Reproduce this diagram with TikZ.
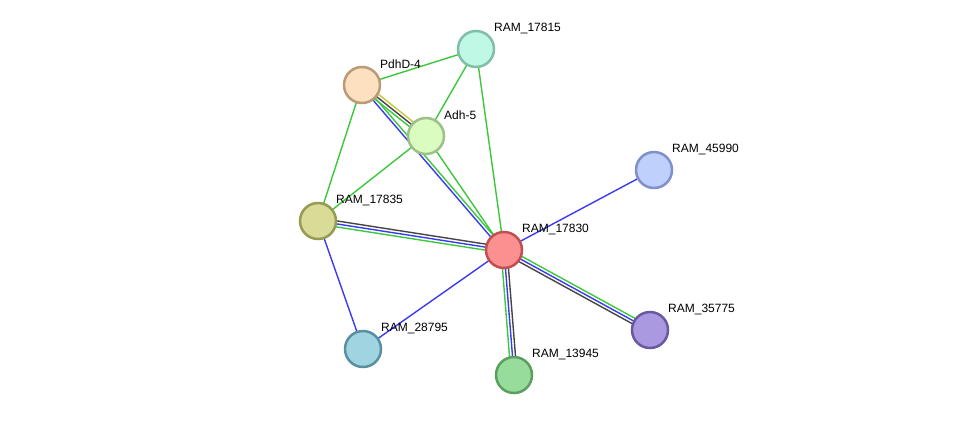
\documentclass[tikz,border=0pt]{standalone}
\usepackage{fontspec}
\setmainfont{Liberation Sans}
\usetikzlibrary{calc, backgrounds, positioning}

\definecolor{lnkgreen}{HTML}{3CC83C}
\definecolor{lnkblue}{HTML}{3A3AF2}
\definecolor{lnkgray}{HTML}{454545}
\definecolor{lnkyellow}{HTML}{C8C83C}

\tikzset{
  prot/.style={circle, minimum size=36pt, inner sep=0pt, line width=2.5pt},
  plabel/.style={anchor=west, inner sep=0pt, font=\fontsize{12}{14}\selectfont},
  link/.style={line width=1.4pt}
}

% one coloured line between two proteins, shifted sideways by #2
\newcommand{\ppiline}[4]{%
  \draw[link, #1] ($(#3.center)!#2!90:(#4.center)$) -- ($(#4.center)!#2!-90:(#3.center)$);}

\begin{document}
\begin{tikzpicture}[x=1pt, y=-1pt]
\useasboundingbox (0,0) rectangle (976,421);

% proteins
\node[prot, fill={rgb,255:red,192;green,248;blue,230}, draw={rgb,255:red,128;green,190;blue,165}] (n17815) at (476,49) {};
\node[prot, fill={rgb,255:red,253;green,224;blue,192}, draw={rgb,255:red,185;green,155;blue,120}] (pdhd) at (362,85) {};
\node[prot, fill={rgb,255:red,218;green,252;blue,192}, draw={rgb,255:red,158;green,192;blue,138}] (adh) at (426,136) {};
\node[prot, fill={rgb,255:red,192;green,208;blue,252}, draw={rgb,255:red,128;green,144;blue,200}] (n45990) at (654,170) {};
\node[prot, fill={rgb,255:red,216;green,220;blue,150}, draw={rgb,255:red,150;green,154;blue,82}] (n17835) at (318,221) {};
\node[prot, fill={rgb,255:red,252;green,144;blue,144}, draw={rgb,255:red,192;green,80;blue,80}] (n17830) at (504,250) {};
\node[prot, fill={rgb,255:red,170;green,152;blue,224}, draw={rgb,255:red,106;green,88;blue,160}] (n35775) at (650,330) {};
\node[prot, fill={rgb,255:red,160;green,212;blue,224}, draw={rgb,255:red,88;green,144;blue,160}] (n28795) at (363,349) {};
\node[prot, fill={rgb,255:red,152;green,220;blue,156}, draw={rgb,255:red,90;green,158;blue,96}] (n13945) at (514,375) {};

% labels
\node[plabel] (l17815) at ([shift={(18,-21)}]n17815.center) {RAM\_17815};
\node[plabel] (lpdhd) at ([shift={(18,-21)}]pdhd.center) {PdhD-4};
\node[plabel] (ladh) at ([shift={(18,-21)}]adh.center) {Adh-5};
\node[plabel] (l45990) at ([shift={(18,-21)}]n45990.center) {RAM\_45990};
\node[plabel] (l17835) at ([shift={(18,-21)}]n17835.center) {RAM\_17835};
\node[plabel] (l17830) at ([shift={(18,-21)}]n17830.center) {RAM\_17830};
\node[plabel] (l35775) at ([shift={(18,-21)}]n35775.center) {RAM\_35775};
\node[plabel] (l28795) at ([shift={(18,-21)}]n28795.center) {RAM\_28795};
\node[plabel] (l13945) at ([shift={(18,-21)}]n13945.center) {RAM\_13945};

% interactions
\begin{scope}[on background layer]
  \ppiline{lnkgreen}{0pt}{n17815}{pdhd}
  \ppiline{lnkgreen}{0pt}{n17815}{adh}
  \ppiline{lnkgreen}{0pt}{n17815}{n17830}
  \ppiline{lnkgreen}{0pt}{pdhd}{n17835}
  \ppiline{lnkgreen}{0pt}{adh}{n17835}
  \ppiline{lnkgreen}{0pt}{adh}{n17830}
  \ppiline{lnkyellow}{3pt}{pdhd}{adh}
  \ppiline{lnkgray}{0pt}{pdhd}{adh}
  \ppiline{lnkgreen}{-3pt}{pdhd}{adh}
  \ppiline{lnkgreen}{1.5pt}{pdhd}{n17830}
  \ppiline{lnkblue}{-1.5pt}{pdhd}{n17830}
  \ppiline{lnkgray}{3pt}{n17835}{n17830}
  \ppiline{lnkblue}{0pt}{n17835}{n17830}
  \ppiline{lnkgreen}{-3pt}{n17835}{n17830}
  \ppiline{lnkblue}{0pt}{n17835}{n28795}
  \ppiline{lnkblue}{0pt}{n28795}{n17830}
  \ppiline{lnkblue}{0pt}{n17830}{n45990}
  \ppiline{lnkgreen}{-3pt}{n17830}{n13945}
  \ppiline{lnkblue}{0pt}{n17830}{n13945}
  \ppiline{lnkgray}{3pt}{n17830}{n13945}
  \ppiline{lnkgreen}{3pt}{n17830}{n35775}
  \ppiline{lnkblue}{0pt}{n17830}{n35775}
  \ppiline{lnkgray}{-3pt}{n17830}{n35775}
\end{scope}
\end{tikzpicture}
\end{document}
